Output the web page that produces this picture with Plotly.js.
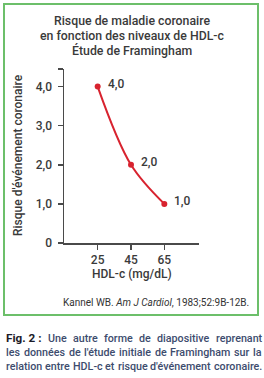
<!DOCTYPE html>
<html>
<head>
<meta charset="utf-8">
<script src="https://cdn.plot.ly/plotly-3.0.1.min.js"></script>
<style>html,body{margin:0;padding:0;background:#fff;}#chart{width:264px;height:378px;}</style>
</head>
<body>
<div id="chart"></div>
<script>
// ---- data ----
const hdlValues = [25, 45, 65];
const riskValues = [4.0, 2.0, 1.0];
const riskLabels = ['4,0', '2,0', '1,0'];
const xTickVals = [25, 45, 65];
const xTickText = ['25', '45', '65'];
const yTickVals = [0, 1, 2, 3, 4];
const yTickText = ['0', '1,0', '2,0', '3,0', '4,0'];
const titleLines = ['Risque de maladie coronaire', 'en fonction des niveaux de HDL-c', 'Étude de Framingham'];
const xTitle = 'HDL-c (mg/dL)';
const yTitle = "Risque d'événement coronaire";
const citation = 'Kannel WB. <i>Am J Cardiol</i>, 1983;52:9B-12B.';
const captionLabel = 'Fig. 2 :';
const captionLines = [
  'Une autre forme de diapositive reprenant',
  "les données de l'étude initiale de Framingham sur la",
  "relation entre HDL-c et risque d'événement coronaire."
];

// ---- helpers (pixel -> paper) ----
const W = 264, H = 378;
const px = x => x / W;
const py = y => 1 - y / H;

const xMin = 4.8, xMax = 85.8;
const yMax = 4.45;

const red = '#d8232f';
const axisColor = '#4a4a4a';
const textColor = '#3a3a3a';
const font = 'Roboto, "Liberation Sans", Arial, sans-serif';
const capColor = '#3d4c6e';
const capFamily = 'Roboto';

// text measuring for justified caption
const ctx = document.createElement('canvas').getContext('2d');
function measure(text, size, weight, family) {
  ctx.font = weight + ' ' + size + 'px ' + family;
  return ctx.measureText(text).width;
}

const trace = {
  x: hdlValues,
  y: riskValues,
  mode: 'lines+markers',
  line: {color: red, width: 2, shape: 'spline', smoothing: 1},
  marker: {color: red, size: 6},
  hoverinfo: 'none',
  cliponaxis: false
};

const annotations = [];
// point labels
hdlValues.forEach((xv, i) => {
  annotations.push({
    x: xv, y: riskValues[i], xref: 'x', yref: 'y',
    text: riskLabels[i], showarrow: false,
    xanchor: 'left', yanchor: 'middle', xshift: 8, yshift: 3,
    font: {family: font, size: 12, color: textColor, weight: 500}
  });
});
// title
titleLines.forEach((t, i) => {
  annotations.push({
    x: px(132), y: py(21 + i * 15), xref: 'paper', yref: 'paper',
    text: t, showarrow: false, xanchor: 'center', yanchor: 'middle',
    font: {family: font, size: 12.3, color: textColor, weight: 500}
  });
});
// axis titles
annotations.push({
  x: px(132), y: py(274), xref: 'paper', yref: 'paper', text: xTitle,
  showarrow: false, xanchor: 'center', yanchor: 'middle',
  font: {family: font, size: 12, color: textColor, weight: 500}
});
annotations.push({
  x: px(18), y: py(155), xref: 'paper', yref: 'paper', text: yTitle,
  showarrow: false, xanchor: 'center', yanchor: 'middle', textangle: -90,
  font: {family: font, size: 12, color: textColor, weight: 500}
});
// citation
annotations.push({
  x: px(251), y: py(302), xref: 'paper', yref: 'paper', text: citation,
  showarrow: false, xanchor: 'right', yanchor: 'middle',
  font: {family: font, size: 10, color: '#333'}
});

// caption: justified lines between left and right edges
const capLeft = 4, capRight = 260;
const capWeight = 500;
let capSize = 11;
const natural3 = measure(captionLines[2], capSize, capWeight, capFamily);
capSize = Math.max(8, Math.min(11.5, capSize * (capRight - capLeft - 1) / natural3));
const labelSize = capSize + 1;
captionLines.forEach((line, li) => {
  const yPix = 338 + li * 14;
  const words = line.split(' ');
  const items = words.map(w => ({text: w, size: capSize, color: capColor, weight: capWeight}));
  if (li === 0) items.unshift({text: captionLabel, size: labelSize, color: '#1b1b28', weight: 700});
  const widths = items.map(it => measure(it.text, it.size, it.weight, capFamily));
  const total = widths.reduce((a, b) => a + b, 0);
  const gap = (capRight - capLeft - total) / (items.length - 1);
  let xPos = capLeft;
  items.forEach((it, k) => {
    annotations.push({
      x: px(xPos), y: py(yPix), xref: 'paper', yref: 'paper',
      text: it.text, showarrow: false,
      xanchor: 'left', yanchor: 'middle',
      font: {family: capFamily, size: it.size, color: it.color, weight: it.weight}
    });
    xPos += widths[k] + gap;
  });
});

const layout = {
  width: W, height: H, autosize: false,
  margin: {l: 0, r: 0, t: 0, b: 0},
  paper_bgcolor: '#fff', plot_bgcolor: '#fff',
  showlegend: false,
  xaxis: {
    domain: [px(64), px(199)], range: [xMin, xMax],
    tickvals: xTickVals, ticktext: xTickText,
    showgrid: false, zeroline: false, showline: true,
    linecolor: axisColor, linewidth: 1.5,
    ticks: 'outside', ticklen: 5, tickwidth: 1.5, tickcolor: axisColor,
    tickfont: {family: font, size: 12, color: textColor, weight: 500},
    fixedrange: true
  },
  yaxis: {
    domain: [py(243), py(69)], range: [0, yMax],
    tickvals: yTickVals.concat([yMax]), ticktext: yTickText.concat(['']),
    showgrid: false, zeroline: false, showline: true,
    linecolor: axisColor, linewidth: 1.5,
    ticks: 'outside', ticklen: 5, tickwidth: 1.5, tickcolor: axisColor,
    tickfont: {family: font, size: 12, color: textColor, weight: 500},
    ticklabelstandoff: 3,
    fixedrange: true
  },
  shapes: [{
    type: 'rect', xref: 'paper', yref: 'paper',
    x0: px(4), x1: px(258), y0: py(315), y1: py(4),
    line: {color: '#6cbf6a', width: 2}, fillcolor: 'rgba(0,0,0,0)'
  }],
  annotations: annotations
};

Plotly.newPlot('chart', [trace], layout, {displayModeBar: false, staticPlot: true});
</script>
</body>
</html>
